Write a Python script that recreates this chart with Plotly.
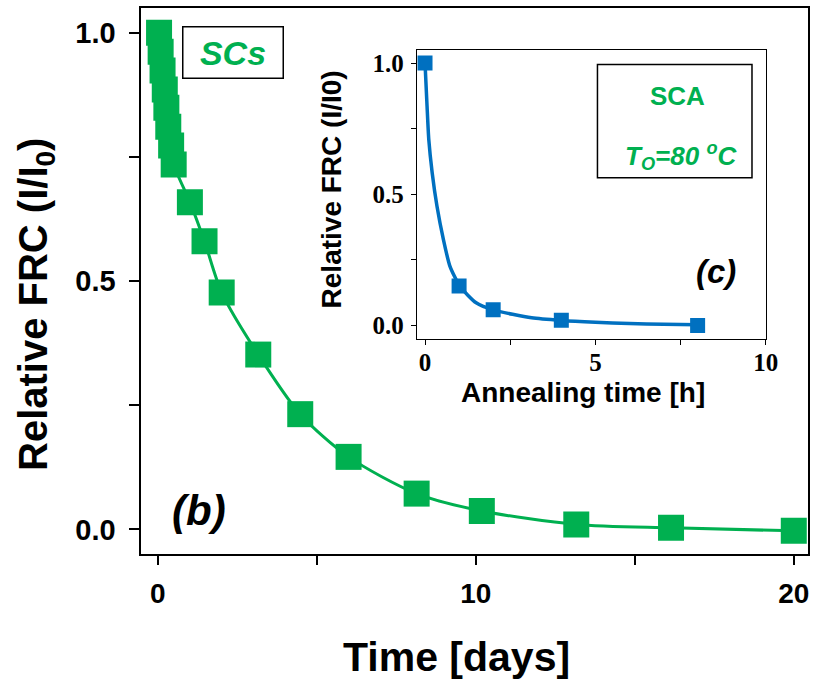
import plotly.graph_objects as go

# ---- main panel (b): SCs, time in days ----
days = [0.04, 0.09, 0.15, 0.22, 0.27, 0.33, 0.42, 0.50,
        1.01, 1.47, 2.01, 3.16, 4.48, 6.0, 8.14, 10.19, 13.16, 16.14, 20.0]
frc_days = [1.0, 0.962, 0.924, 0.886, 0.849, 0.811, 0.773, 0.735,
            0.659, 0.580, 0.477, 0.352, 0.232, 0.146, 0.072, 0.037, 0.010, 0.003, -0.003]

# ---- inset (c): SCA, annealing time in hours ----
hours = [0, 1, 2, 4, 8]
frc_hours = [1.0, 0.15, 0.06, 0.02, 0.0]
# fitted curve
fit_hours = [0, 0.06, 0.11, 0.21, 0.35, 0.54, 0.73, 1.02, 1.5, 2.03, 3.13, 4.0, 5.0, 6.0, 7.0, 8.0]
fit_frc = [1.0, 0.835, 0.709, 0.582, 0.455, 0.327, 0.226, 0.150, 0.086, 0.058, 0.029, 0.019, 0.012, 0.007, 0.004, 0.002]

GREEN = "#00B050"
BLUE = "#0070C0"
W, H = 827, 683

def px(x):
    return x / W

def py(y):
    return 1 - y / H

fig = go.Figure()

fig.add_trace(go.Scatter(
    x=days, y=frc_days, mode="lines",
    line=dict(color=GREEN, width=3, shape="spline", smoothing=0.8),
    xaxis="x", yaxis="y", showlegend=False, hoverinfo="skip"))
fig.add_trace(go.Scatter(
    x=days, y=frc_days, mode="markers",
    marker=dict(symbol="square", size=26, color=GREEN, line=dict(width=0)),
    xaxis="x", yaxis="y", showlegend=False))

fig.add_trace(go.Scatter(
    x=fit_hours, y=fit_frc, mode="lines",
    line=dict(color=BLUE, width=3.5, shape="spline", smoothing=0.6),
    xaxis="x2", yaxis="y2", showlegend=False, hoverinfo="skip"))
fig.add_trace(go.Scatter(
    x=hours, y=frc_hours, mode="markers",
    marker=dict(symbol="square", size=15, color=BLUE, line=dict(width=0)),
    xaxis="x2", yaxis="y2", showlegend=False))

sans_bold = dict(family="Liberation Sans, Arial", color="black", weight="bold")
serif_bold = dict(family="Liberation Serif, Times New Roman", color="black", weight="bold")

fig.update_layout(
    width=W, height=H, autosize=False,
    margin=dict(l=0, r=0, t=0, b=0),
    paper_bgcolor="white", plot_bgcolor="white",
    xaxis=dict(
        domain=[px(143.5), px(821)], range=[-0.52, 20.45],
        showline=True, linecolor="black", linewidth=1.5, mirror=True,
        showgrid=False, zeroline=False,
        ticks="outside", ticklen=9, tickwidth=1.5, tickcolor="black",
        tickvals=[0, 10, 20], ticktext=["0", "10", "20"],
        ticklabelstandoff=4,
        minor=dict(tickvals=[5, 15], ticks="outside", ticklen=9, tickwidth=1.5, tickcolor="black"),
        tickfont=dict(size=28, **sans_bold),
        anchor="y"),
    yaxis=dict(
        domain=[py(555), py(8)], range=[-0.05, 1.05],
        showline=True, linecolor="black", linewidth=1.5, mirror=True,
        showgrid=False, zeroline=False,
        ticks="outside", ticklen=10, tickwidth=1.5, tickcolor="black",
        tickvals=[0, 0.5, 1.0], ticktext=["0.0", "0.5", "1.0"],
        ticklabelstandoff=8,
        minor=dict(tickvals=[0.25, 0.75], ticks="outside", ticklen=10, tickwidth=1.5, tickcolor="black"),
        tickfont=dict(size=29, **sans_bold),
        anchor="x"),
    xaxis2=dict(
        domain=[px(423.5), px(778)], range=[-0.24, 10.0],
        showline=True, linecolor="black", linewidth=1.2, mirror=True,
        showgrid=False, zeroline=False,
        ticks="outside", ticklen=5, tickwidth=1.2, tickcolor="black",
        tickvals=[0, 5, 10], ticktext=["0", "5", "10"],
        ticklabelstandoff=-4,
        minor=dict(tickvals=[2.5, 7.5], ticks="outside", ticklen=5, tickwidth=1.2, tickcolor="black"),
        tickfont=dict(size=25, **serif_bold),
        anchor="y2"),
    yaxis2=dict(
        domain=[py(339), py(50)], range=[-0.05, 1.05],
        showline=True, linecolor="black", linewidth=1.2, mirror=True,
        showgrid=False, zeroline=False,
        ticks="outside", ticklen=5, tickwidth=1.2, tickcolor="black",
        tickvals=[0, 0.5, 1.0], ticktext=["0.0", "0.5", "1.0"],
        ticklabelstandoff=2,
        minor=dict(tickvals=[0.25, 0.75], ticks="outside", ticklen=5, tickwidth=1.2, tickcolor="black"),
        tickfont=dict(size=25, **serif_bold),
        anchor="x2"),
)

# inset legend box
fig.add_shape(type="rect", xref="paper", yref="paper",
              x0=px(607), x1=px(764), y0=py(178), y1=py(64.5),
              line=dict(color="black", width=1.5), fillcolor="rgba(0,0,0,0)")

ann = []
ann.append(dict(text="Relative FRC (I/I<sub>0</sub>)", x=px(36), y=py(305), textangle=-90,
                font=dict(size=40, **sans_bold)))
ann.append(dict(text="Time [days]", x=px(464), y=py(658),
                font=dict(size=41, **sans_bold)))
ann.append(dict(text="<i>(b)</i>", x=px(202), y=py(511),
                font=dict(size=42, **sans_bold)))
ann.append(dict(text="<i>SCs</i>", x=px(237.2), y=py(53), width=99, height=50,
                bordercolor="black", borderwidth=1.5, borderpad=0,
                font=dict(size=34, family="Liberation Sans, Arial", color=GREEN, weight="bold")))
ann.append(dict(text="SCA", x=px(688), y=py(96),
                font=dict(size=26, family="Liberation Sans, Arial", color=GREEN, weight="bold")))
ann.append(dict(text="<i>T<sub>O</sub>=80 <sup>o</sup>C</i>", x=px(692), y=py(156),
                font=dict(size=26, family="Liberation Sans, Arial", color=GREEN, weight="bold")))
ann.append(dict(text="<i>(c)</i>", x=px(727), y=py(272),
                font=dict(size=33, **sans_bold)))
ann.append(dict(text="Relative FRC (I/I0)", x=px(337), y=py(190), textangle=-90,
                font=dict(size=28, **sans_bold)))
ann.append(dict(text="Annealing time [h]", x=px(592), y=py(393),
                font=dict(size=28, **sans_bold)))

for a in ann:
    a.update(xref="paper", yref="paper", showarrow=False, xanchor="center", yanchor="middle")
fig.update_layout(annotations=ann)

fig.write_html("out.html", config={"responsive": False})
